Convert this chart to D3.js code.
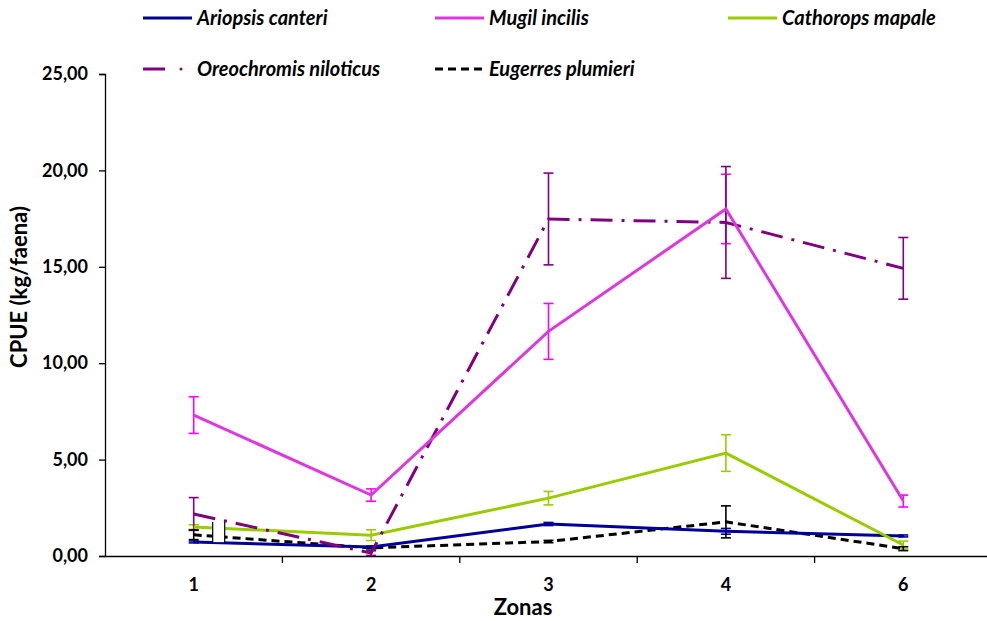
<!DOCTYPE html>
<html><head><meta charset="utf-8">
<script src="https://cdn.jsdelivr.net/npm/d3@7"></script>
<style>
body{margin:0;background:#fff;}
text{font-family:Lato,"Open Sans",sans-serif;font-weight:bold;}
</style></head>
<body><svg id="c" width="987" height="621"></svg>
<script>
const zonas = ["1","2","3","4","6"];
const yTicks = [0,5,10,15,20,25];
const seriesNames = ["Ariopsis canteri","Mugil incilis","Cathorops mapale","Oreochromis niloticus","Eugerres plumieri"];
const ariopsis     = [0.73, 0.47, 1.66, 1.28, 1.04];
const ariopsisErr  = [0.05, 0.05, 0.08, 0.15, 0.05];
const mugil        = [7.31, 3.16, 11.65, 18.0, 2.85];
const mugilErr     = [0.95, 0.32, 1.45, 1.8, 0.31];
const cathorops    = [1.50, 1.08, 3.0, 5.34, 0.57];
const cathoropsErr = [0.12, 0.28, 0.35, 0.95, 0.2];
const oreochromis  = [2.18, 0.15, 17.48, 17.3, 14.92];
const oreochromisErr = [0.85, 0.12, 2.38, 2.9, 1.6];
const eugerres     = [1.10, 0.42, 0.75, 1.77, 0.38];
const eugerresErr  = [0.25, 0.05, 0.06, 0.83, 0.1];

const series = [
  {name:seriesNames[0], v:ariopsis, e:ariopsisErr, color:"#000099", err:"#000099", dash:null},
  {name:seriesNames[1], v:mugil, e:mugilErr, color:"#dd38dd", err:"#ff00ff", dash:null},
  {name:seriesNames[2], v:cathorops, e:cathoropsErr, color:"#99cc00", err:"#99cc00", dash:null},
  {name:seriesNames[3], v:oreochromis, e:oreochromisErr, color:"#800080", err:"#800080", dash:"22,9,3,9"},
  {name:seriesNames[4], v:eugerres, e:eugerresErr, color:"#000000", err:"#000000", dash:"8,5"}
];

const svg = d3.select("#c");
const x0 = 105, x1 = 992, yBottom = 556, yTop = 74;
const x = d3.scaleBand().domain(zonas).range([x0, x1]);
const y = d3.scaleLinear().domain([0,25]).range([yBottom, yTop]);
const cx = d => x(d) + x.bandwidth()/2;

// axes
const ya = svg.append("g").attr("transform",`translate(${x0},0)`)
  .call(d3.axisLeft(y).tickValues(yTicks).tickSize(6).tickPadding(11)
    .tickFormat(d => d3.format(".2f")(d).replace(".",",")));
const xa = svg.append("g").attr("transform",`translate(0,${yBottom})`)
  .call(d3.axisBottom(x).tickSize(0).tickPadding(22));
[ya,xa].forEach(g=>{
  g.select(".domain").attr("stroke","#000").attr("stroke-width",1.3);
  g.selectAll("text").style("font-size","18px").attr("fill","#000");
});
ya.selectAll(".tick line").attr("stroke","#000").attr("stroke-width",1.3);
// x tick marks between categories
svg.append("g").selectAll("line").data(zonas.slice(1)).join("line")
  .attr("x1",d=>x(d)).attr("x2",d=>x(d)).attr("y1",yBottom).attr("y2",yBottom+7)
  .attr("stroke","#000").attr("stroke-width",1.3);

// axis titles
svg.append("text").attr("transform",`translate(27,287) rotate(-90)`)
  .attr("text-anchor","middle").style("font-size","22px").text("CPUE (kg/faena)");
svg.append("text").attr("x",523).attr("y",615).attr("text-anchor","middle")
  .style("font-size","22px").text("Zonas");

const line = d3.line().x((d,i)=>cx(zonas[i])).y(d=>y(d));
const cap = 5;
series.forEach(s=>{
  const g = svg.append("g");
  g.selectAll("line.eb").data(s.v).join("line")
    .attr("x1",(d,i)=>cx(zonas[i])).attr("x2",(d,i)=>cx(zonas[i]))
    .attr("y1",(d,i)=>y(d+s.e[i])).attr("y2",(d,i)=>y(Math.max(0,d-s.e[i])))
    .attr("stroke",s.err).attr("stroke-width",1.6);
  [1,-1].forEach(sg=>{
    g.selectAll(null).data(s.v).join("line")
      .attr("x1",(d,i)=>cx(zonas[i])-cap).attr("x2",(d,i)=>cx(zonas[i])+cap)
      .attr("y1",(d,i)=>y(Math.max(0,d+sg*s.e[i]))).attr("y2",(d,i)=>y(Math.max(0,d+sg*s.e[i])))
      .attr("stroke",s.err).attr("stroke-width",1.6);
  });
});
// lines
const order = [4,0,2,3,1];
order.forEach(k=>{
  const s = series[k];
  svg.append("path").datum(s.v).attr("d",line).attr("fill","none")
    .attr("stroke",s.color).attr("stroke-width",3).attr("stroke-dasharray",s.dash);
});
// white box artifact near zona 1
svg.append("rect").attr("x",cx("1")+19).attr("y",y(1.76)).attr("width",12).attr("height",y(0.72)-y(1.76))
  .attr("fill","#fff").attr("stroke","none");
svg.append("line").attr("x1",cx("1")+19).attr("x2",cx("1")+19).attr("y1",y(1.76)).attr("y2",y(0.66)).attr("stroke","#000").attr("stroke-width",1.2);
svg.append("line").attr("x1",cx("1")+31).attr("x2",cx("1")+31).attr("y1",y(1.76)).attr("y2",y(0.66)).attr("stroke","#000").attr("stroke-width",1.2);

// legend
const legPos = [[143,18],[435,18],[728,18],[143,69],[435,69]];
series.forEach((s,k)=>{
  const [lx,ly] = legPos[k];
  const g = svg.append("g").attr("transform",`translate(${lx},${ly})`);
  if(k===3){
    g.append("line").attr("x1",0).attr("x2",22).attr("y1",0).attr("y2",0).attr("stroke",s.color).attr("stroke-width",3);
    g.append("circle").attr("cx",38).attr("cy",0).attr("r",1.5).attr("fill",s.color);
  } else {
    g.append("line").attr("x1",0).attr("x2",49).attr("y1",0).attr("y2",0).attr("stroke",s.color)
      .attr("stroke-width",3).attr("stroke-dasharray",s.dash ? "8,5" : null);
  }
  g.append("text").attr("x",54).attr("y",7).style("font-size","20px").style("font-style","italic").text(s.name);
});
</script></body></html>
